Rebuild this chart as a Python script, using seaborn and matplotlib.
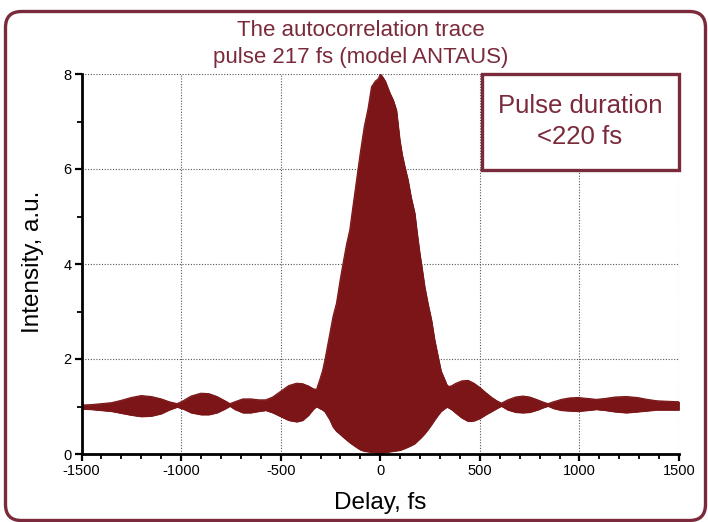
import matplotlib
matplotlib.use("Agg")
import matplotlib.pyplot as plt
import seaborn as sns
import numpy as np
import pandas as pd
from matplotlib.patches import FancyBboxPatch
from matplotlib.transforms import IdentityTransform
from matplotlib.ticker import MultipleLocator

# Envelope (upper / lower fringe limits) of the interferometric autocorrelation
# trace
delay = [-1500, -1450, -1400, -1350, -1300, -1250, -1200, -1150, -1100, -1060,
         -1020, -990, -950, -900, -860, -820, -780, -755, -730, -690,
         -650, -610, -575, -540, -500, -460, -420, -390, -360, -335,
         -320, -304, -290, -278, -253, -237, -220, -200, -187, -170,
         -153, -136, -119, -100, -80, -61, -44, -25, -10, 0,
         10, 25, 48, 65, 81, 98, 110, 123, 139, 155,
         173, 185, 198, 210, 223, 240, 257, 273, 290, 305,
         324, 335, 345, 360, 380, 410, 441, 470, 500, 530,
         560, 585, 608, 640, 680, 716, 750, 790, 820, 842,
         870, 910, 950, 990, 1040, 1085, 1130, 1180, 1235, 1290,
         1340, 1390, 1440, 1500]
upper = [1.03, 1.04, 1.06, 1.08, 1.13, 1.19, 1.23, 1.21, 1.16, 1.10,
         1.06, 1.12, 1.22, 1.28, 1.27, 1.21, 1.12, 1.06, 1.10, 1.16,
         1.16, 1.14, 1.14, 1.20, 1.32, 1.44, 1.49, 1.48, 1.43, 1.37,
         1.36, 1.56, 1.75, 1.98, 2.54, 2.90, 3.17, 3.70, 4.01, 4.40,
         4.72, 5.25, 5.77, 6.35, 6.90, 7.28, 7.73, 7.85, 7.90, 8.00,
         7.95, 7.85, 7.60, 7.45, 7.24, 6.61, 6.30, 6.05, 5.77, 5.40,
         5.07, 4.65, 4.23, 3.90, 3.52, 3.15, 2.82, 2.40, 2.05, 1.75,
         1.56, 1.45, 1.42, 1.44, 1.49, 1.54, 1.55, 1.49, 1.40, 1.29,
         1.19, 1.12, 1.07, 1.14, 1.20, 1.22, 1.20, 1.14, 1.09, 1.06,
         1.10, 1.15, 1.18, 1.19, 1.17, 1.15, 1.17, 1.20, 1.21, 1.19,
         1.15, 1.12, 1.11, 1.10]
lower = [0.95, 0.94, 0.92, 0.90, 0.86, 0.82, 0.79, 0.80, 0.85, 0.93,
         0.99, 0.95, 0.87, 0.83, 0.83, 0.87, 0.95, 1.01, 0.94, 0.87,
         0.87, 0.90, 0.92, 0.87, 0.79, 0.71, 0.68, 0.71, 0.82, 0.95,
         1.00, 0.96, 0.93, 0.89, 0.72, 0.57, 0.48, 0.41, 0.36, 0.30,
         0.24, 0.19, 0.14, 0.09, 0.06, 0.05, 0.04, 0.03, 0.02, 0.02,
         0.02, 0.03, 0.05, 0.06, 0.07, 0.08, 0.10, 0.12, 0.15, 0.18,
         0.22, 0.27, 0.32, 0.37, 0.43, 0.52, 0.62, 0.72, 0.82, 0.90,
         0.96, 0.99, 0.97, 0.93, 0.86, 0.76, 0.69, 0.70, 0.75, 0.83,
         0.90, 0.96, 1.01, 0.93, 0.88, 0.87, 0.88, 0.93, 0.98, 1.01,
         0.96, 0.92, 0.91, 0.90, 0.92, 0.94, 0.92, 0.89, 0.87, 0.89,
         0.91, 0.93, 0.93, 0.93]

title_lines = ["The autocorrelation trace", "pulse 217 fs (model ANTAUS)"]
box_lines = ["Pulse duration", "<220 fs"]
x_label = "Delay, fs"
y_label = "Intensity, a.u."
x_ticks = [-1500, -1000, -500, 0, 500, 1000, 1500]
y_ticks = [0, 2, 4, 6, 8]

df = pd.DataFrame({"delay": delay, "upper": upper, "lower": lower})

sns.set_style("white")
plt.rcParams["font.family"] = ["Liberation Sans", "DejaVu Sans"]

FILL = "#7b1517"
MAROON = "#7a2a3a"

fig = plt.figure(figsize=(7.08, 5.22), dpi=100)
ax = fig.add_axes([81.5 / 708, 1 - 454 / 522, 597.5 / 708, 380 / 522])

ax.fill_between(df["delay"], df["lower"], df["upper"], color=FILL, linewidth=0.6,
                edgecolor=FILL, zorder=3)
sns.lineplot(data=df, x="delay", y="upper", ax=ax, color=FILL, linewidth=0.8, zorder=3)
sns.lineplot(data=df, x="delay", y="lower", ax=ax, color=FILL, linewidth=0.8, zorder=3)

ax.set_xlim(-1500, 1500)
ax.set_ylim(0, 8)
ax.set_xticks(x_ticks)
ax.set_yticks(y_ticks)
ax.xaxis.set_minor_locator(MultipleLocator(100))
ax.yaxis.set_minor_locator(MultipleLocator(1))
ax.set_xticklabels([str(t) for t in x_ticks])
ax.set_yticklabels([str(t) for t in y_ticks])

for s in ["top", "right"]:
    ax.spines[s].set_visible(False)
for s in ["left", "bottom"]:
    ax.spines[s].set_color("black")
    ax.spines[s].set_linewidth(2.0)
    ax.spines[s].set_zorder(5)

ax.tick_params(axis="both", which="major", direction="out", length=5, width=1.6,
               color="black", labelsize=10.5, labelcolor="black", pad=2,
               bottom=True, left=True)
ax.tick_params(axis="both", which="minor", direction="out", length=3.5, width=1.3,
               color="black", bottom=True, left=True)

ax.grid(True, which="major", linestyle=(0, (1, 1.5)), linewidth=0.8, color="#555555", zorder=1)
ax.set_axisbelow(True)

ax.set_xlabel(x_label, fontsize=17.5, color="black", va="center")
ax.xaxis.set_label_coords(0.5, (454 - 503) / 380)
ax.set_ylabel(y_label, fontsize=17.5, color="black", va="center")
ax.yaxis.set_label_coords((33 - 81.5) / 597.5, (454 - 262) / 380)

# title
fig.text(361 / 708, 1 - 30 / 522, title_lines[0], ha="center", va="center",
         fontsize=16, color=MAROON)
fig.text(361 / 708, 1 - 57 / 522, title_lines[1], ha="center", va="center",
         fontsize=16, color=MAROON)

# annotation box
box = FancyBboxPatch((482, 522 - 170), 197, 96, boxstyle="square,pad=0",
                     transform=IdentityTransform(), facecolor="white",
                     edgecolor=MAROON, linewidth=2.4, zorder=5)
fig.patches.append(box)
fig.text(580 / 708, 1 - 106 / 522, box_lines[0], ha="center", va="center",
         fontsize=18.5, color=MAROON, zorder=6)
fig.text(580 / 708, 1 - 137 / 522, box_lines[1], ha="center", va="center",
         fontsize=18.5, color=MAROON, zorder=6)

# figure border
border = FancyBboxPatch((5.5, 1.5), 700, 509, boxstyle="round,pad=0,rounding_size=16",
                        transform=IdentityTransform(), facecolor="none",
                        edgecolor=MAROON, linewidth=2.4)
fig.patches.append(border)

fig.savefig("out.png", dpi=100)
